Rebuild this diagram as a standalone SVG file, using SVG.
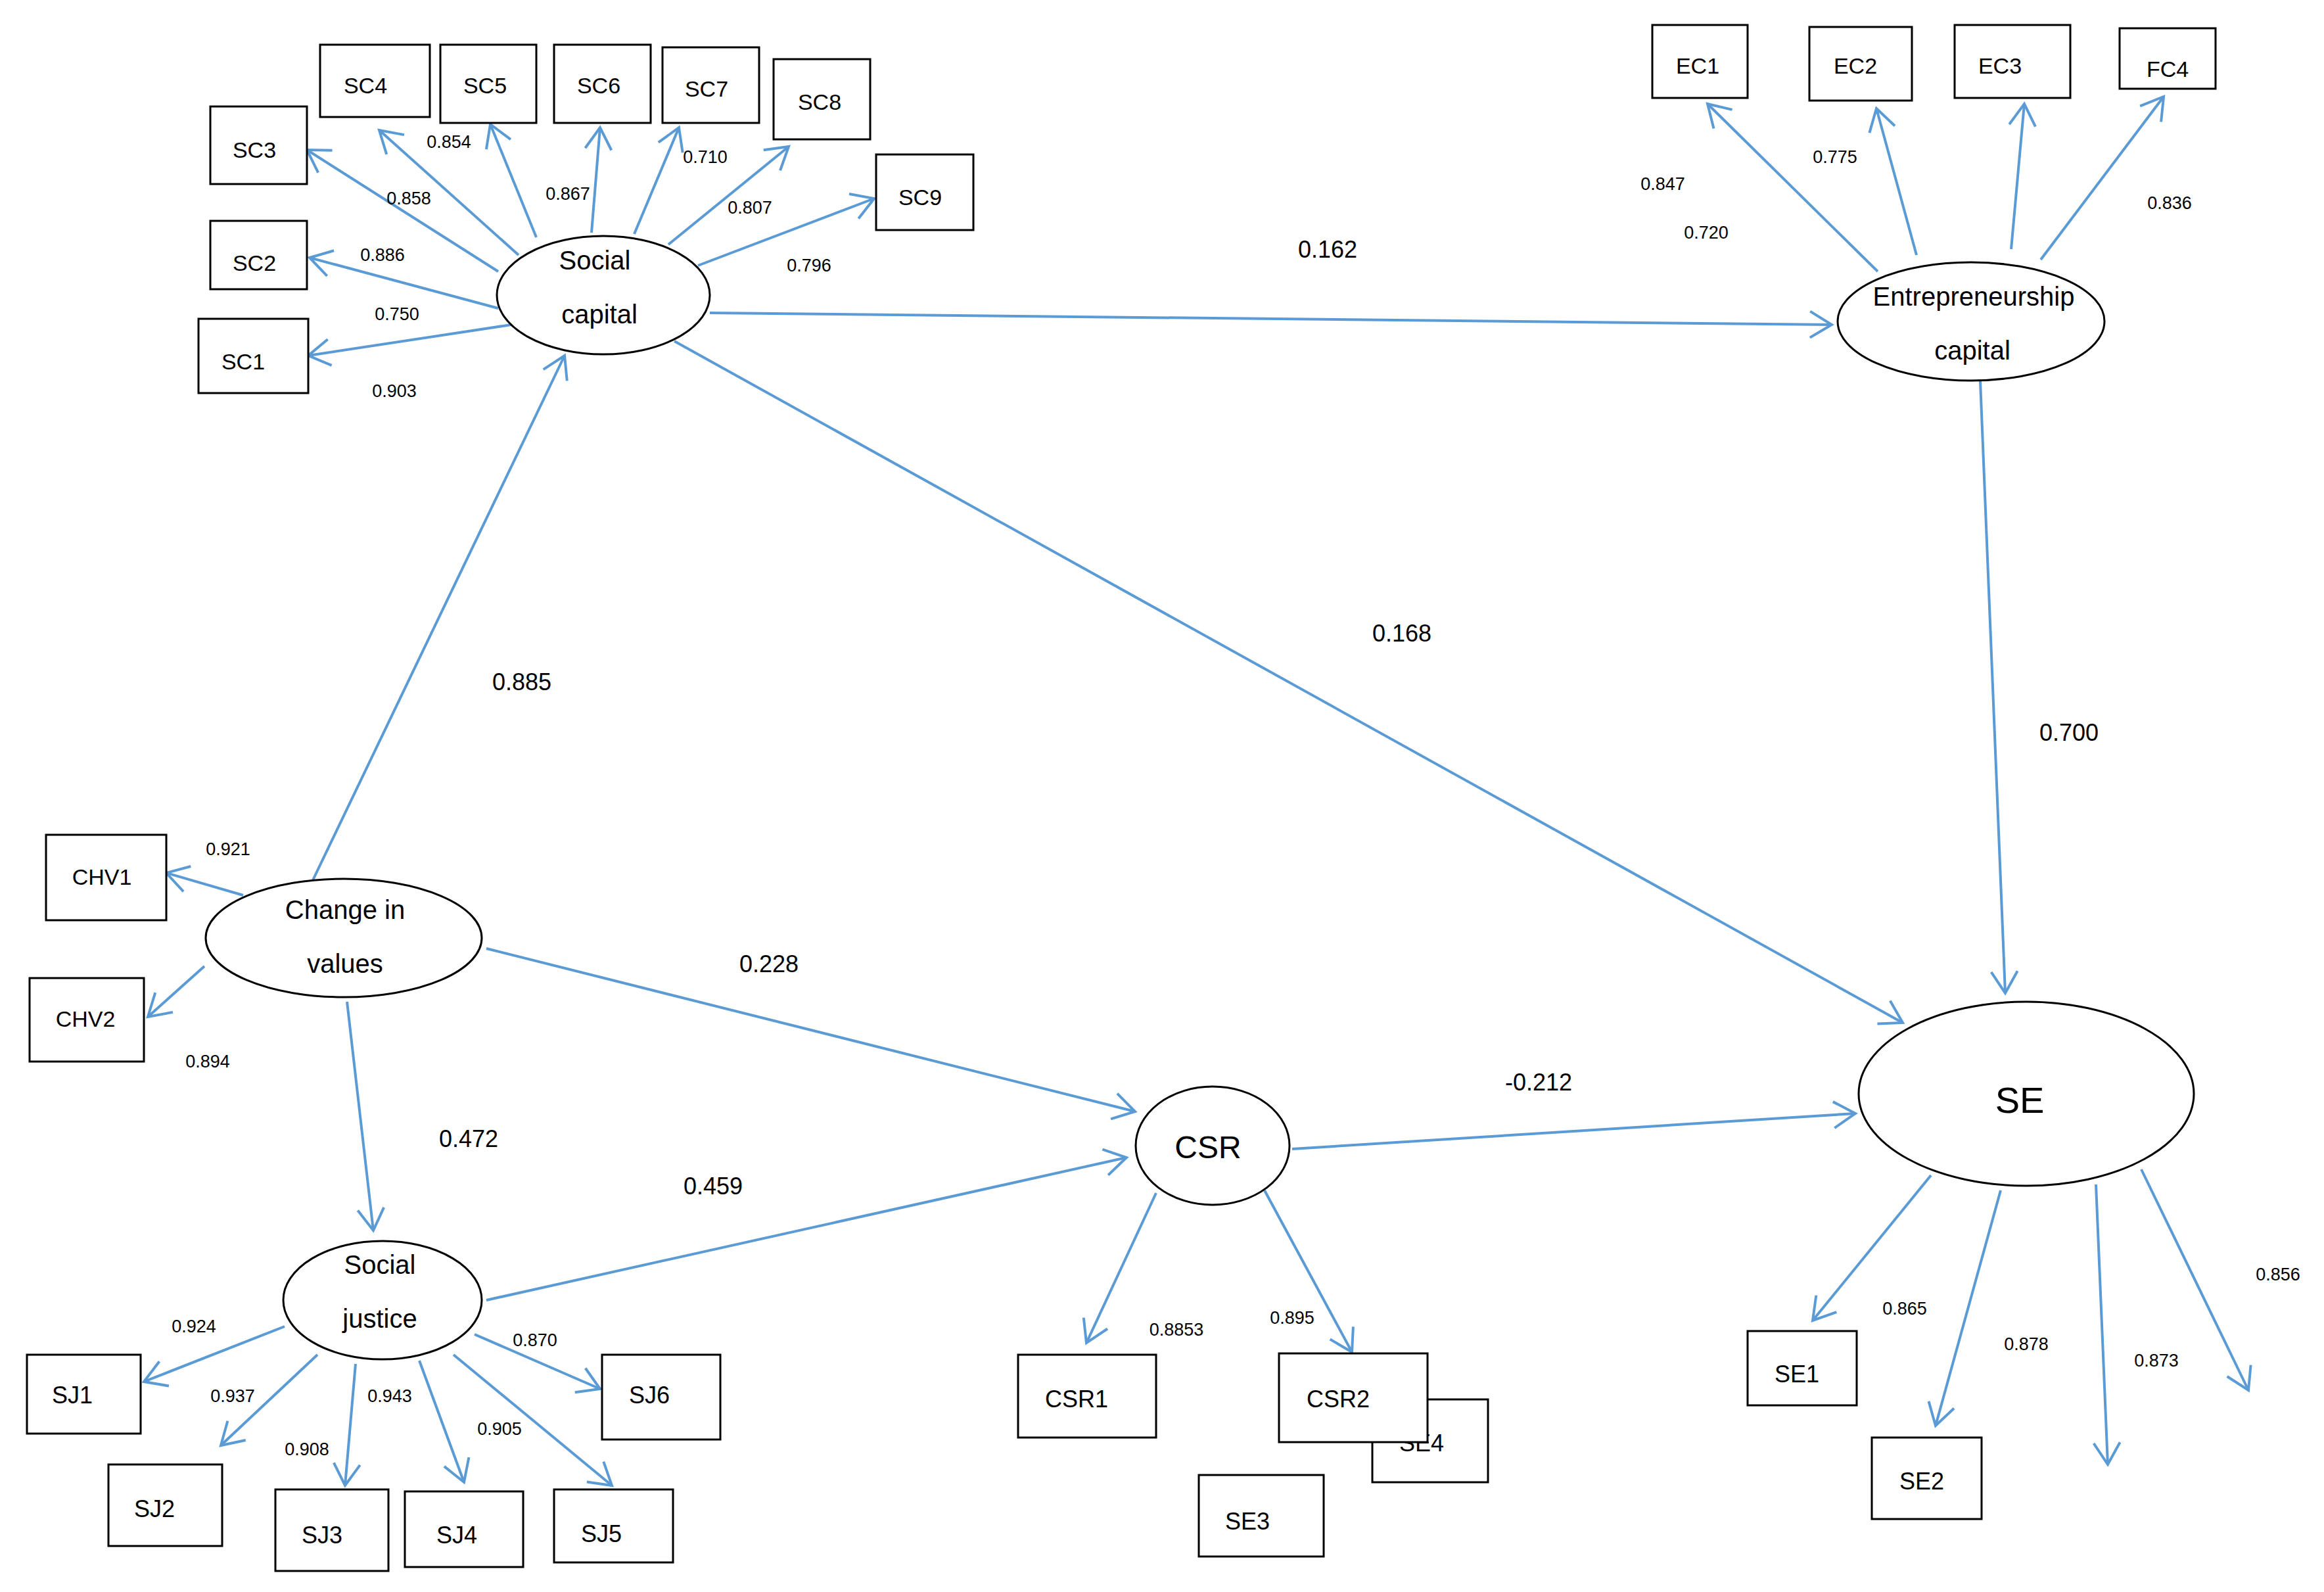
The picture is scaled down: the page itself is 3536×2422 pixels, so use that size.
<svg xmlns="http://www.w3.org/2000/svg" width="3536" height="2422" viewBox="0 0 3536 2422">
<style>
.bx{fill:#fff;stroke:#000;stroke-width:3}
.el{fill:#fff;stroke:#000;stroke-width:3}
.t{font-family:"Liberation Sans",Arial,sans-serif;fill:#000;text-anchor:middle;dominant-baseline:central}
.bt{font-size:34px}
.et{font-size:40px}
.s{font-size:27px}
.m{font-size:36px}
.e{stroke:#5b9bd5;stroke-width:4;fill:none;marker-end:url(#a)}
</style>
<defs>
<marker id="a" markerWidth="14" markerHeight="14" refX="13" refY="7" orient="auto" markerUnits="userSpaceOnUse" viewBox="0 0 14 14" overflow="visible">
<path d="M-20,-13 L13,7 L-20,27" fill="none" stroke="#5b9bd5" stroke-width="4"/>
</marker>
</defs>
<rect width="3536" height="2422" fill="#fff"/>
<g id="connectors">
<line class="e" x1="778" y1="494" x2="469" y2="541"/>
<line class="e" x1="758" y1="469" x2="471" y2="392"/>
<line class="e" x1="758" y1="413" x2="467" y2="228"/>
<line class="e" x1="789" y1="388" x2="577" y2="198"/>
<line class="e" x1="816" y1="361" x2="746" y2="189"/>
<line class="e" x1="900" y1="354" x2="913" y2="194"/>
<line class="e" x1="965" y1="356" x2="1033" y2="194"/>
<line class="e" x1="1017" y1="372" x2="1200" y2="223"/>
<line class="e" x1="1062" y1="404" x2="1330" y2="302"/>
<line class="e" x1="1080" y1="476" x2="2787" y2="494"/>
<line class="e" x1="1026" y1="519" x2="2895" y2="1556"/>
<line class="e" x1="476" y1="1339" x2="859" y2="541"/>
<line class="e" x1="2857" y1="413" x2="2598" y2="158"/>
<line class="e" x1="2916" y1="388" x2="2855" y2="165"/>
<line class="e" x1="3060" y1="379" x2="3080" y2="158"/>
<line class="e" x1="3105" y1="395" x2="3292" y2="147"/>
<line class="e" x1="3013" y1="580" x2="3051" y2="1511"/>
<line class="e" x1="370" y1="1362" x2="253" y2="1328"/>
<line class="e" x1="311" y1="1470" x2="225" y2="1547"/>
<line class="e" x1="740" y1="1443" x2="1727" y2="1691"/>
<line class="e" x1="528" y1="1524" x2="568" y2="1872"/>
<line class="e" x1="740" y1="1978" x2="1714" y2="1761"/>
<line class="e" x1="1966" y1="1748" x2="2823" y2="1694"/>
<line class="e" x1="1759" y1="1815" x2="1653" y2="2043"/>
<line class="e" x1="1924" y1="1811" x2="2057" y2="2057"/>
<line class="e" x1="2938" y1="1788" x2="2758" y2="2009"/>
<line class="e" x1="3044" y1="1811" x2="2945" y2="2169"/>
<line class="e" x1="3189" y1="1802" x2="3207" y2="2228"/>
<line class="e" x1="3258" y1="1779" x2="3421" y2="2115"/>
<line class="e" x1="433" y1="2018" x2="219" y2="2102"/>
<line class="e" x1="483" y1="2061" x2="336" y2="2199"/>
<line class="e" x1="541" y1="2075" x2="525" y2="2260"/>
<line class="e" x1="638" y1="2070" x2="706" y2="2255"/>
<line class="e" x1="690" y1="2061" x2="931" y2="2260"/>
<line class="e" x1="722" y1="2030" x2="913" y2="2113"/>
</g>
<g id="SocialCapital"><ellipse class="el" cx="918" cy="449" rx="162" ry="90"/><text class="t et" x="905" y="396">Social</text><text class="t et" x="912" y="478">capital</text></g>
<g id="EntrepreneurshipCapital"><ellipse class="el" cx="2999" cy="489" rx="203" ry="90"/><text class="t et" x="3003" y="451">Entrepreneurship</text><text class="t et" x="3001" y="533">capital</text></g>
<g id="ChangeInValues"><ellipse class="el" cx="523" cy="1427" rx="210" ry="90"/><text class="t et" x="525" y="1384">Change in</text><text class="t et" x="525" y="1466">values</text></g>
<g id="SE"><ellipse class="el" cx="3083" cy="1664" rx="255" ry="140"/><text class="t" style="font-size:56px" x="3073" y="1673">SE</text></g>
<g id="CSR"><ellipse class="el" cx="1845" cy="1743" rx="117" ry="90"/><text class="t" style="font-size:48px" x="1838" y="1745">CSR</text></g>
<g id="SocialJustice"><ellipse class="el" cx="582" cy="1978" rx="151" ry="90"/><text class="t et" x="578" y="1924">Social</text><text class="t et" x="578" y="2006">justice</text></g>
<g id="SC4"><rect class="bx" x="487" y="68" width="167" height="110"/><text class="t bt" x="556" y="130">SC4</text></g>
<g id="SC5"><rect class="bx" x="670" y="68" width="146" height="119"/><text class="t bt" x="738" y="130">SC5</text></g>
<g id="SC6"><rect class="bx" x="843" y="68" width="147" height="119"/><text class="t bt" x="911" y="130">SC6</text></g>
<g id="SC7"><rect class="bx" x="1008" y="72" width="147" height="115"/><text class="t bt" x="1075" y="135">SC7</text></g>
<g id="SC8"><rect class="bx" x="1177" y="90" width="147" height="122"/><text class="t bt" x="1247" y="155">SC8</text></g>
<g id="SC9"><rect class="bx" x="1333" y="235" width="148" height="115"/><text class="t bt" x="1400" y="300">SC9</text></g>
<g id="SC3"><rect class="bx" x="320" y="162" width="147" height="118"/><text class="t bt" x="387" y="228">SC3</text></g>
<g id="SC2"><rect class="bx" x="320" y="336" width="147" height="104"/><text class="t bt" x="387" y="400">SC2</text></g>
<g id="SC1"><rect class="bx" x="302" y="485" width="167" height="113"/><text class="t bt" x="370" y="550">SC1</text></g>
<g id="EC1"><rect class="bx" x="2514" y="38" width="145" height="111"/><text class="t bt" x="2583" y="100">EC1</text></g>
<g id="EC2"><rect class="bx" x="2753" y="41" width="156" height="112"/><text class="t bt" x="2823" y="100">EC2</text></g>
<g id="EC3"><rect class="bx" x="2974" y="38" width="176" height="111"/><text class="t bt" x="3043" y="100">EC3</text></g>
<g id="EC4"><rect class="bx" x="3225" y="43" width="146" height="92"/><text class="t bt" x="3298" y="105">FC4</text></g>
<g id="CHV1"><rect class="bx" x="70" y="1270" width="183" height="130"/><text class="t bt" x="155" y="1334">CHV1</text></g>
<g id="CHV2"><rect class="bx" x="45" y="1488" width="174" height="127"/><text class="t bt" x="130" y="1550">CHV2</text></g>
<g id="SJ1"><rect class="bx" x="41" y="2061" width="173" height="120"/><text class="t m" x="110" y="2122">SJ1</text></g>
<g id="SJ2"><rect class="bx" x="165" y="2228" width="173" height="124"/><text class="t m" x="235" y="2295">SJ2</text></g>
<g id="SJ3"><rect class="bx" x="419" y="2266" width="172" height="124"/><text class="t m" x="490" y="2335">SJ3</text></g>
<g id="SJ4"><rect class="bx" x="616" y="2269" width="180" height="115"/><text class="t m" x="695" y="2335">SJ4</text></g>
<g id="SJ5"><rect class="bx" x="843" y="2266" width="181" height="111"/><text class="t m" x="915" y="2333">SJ5</text></g>
<g id="SJ6"><rect class="bx" x="916" y="2061" width="180" height="129"/><text class="t m" x="988" y="2122">SJ6</text></g>
<g id="CSR1"><rect class="bx" x="1549" y="2061" width="210" height="126"/><text class="t m" x="1638" y="2128">CSR1</text></g>
<g id="SE4"><rect class="bx" x="2088" y="2129" width="176" height="126"/><text class="t m" x="2163" y="2195">SE4</text></g>
<g id="CSR2"><rect class="bx" x="1946" y="2059" width="226" height="135"/><text class="t m" x="2036" y="2128">CSR2</text></g>
<g id="SE3"><rect class="bx" x="1824" y="2244" width="190" height="124"/><text class="t m" x="1898" y="2314">SE3</text></g>
<g id="SE1"><rect class="bx" x="2659" y="2025" width="166" height="113"/><text class="t m" x="2734" y="2090">SE1</text></g>
<g id="SE2"><rect class="bx" x="2848" y="2187" width="167" height="124"/><text class="t m" x="2924" y="2253">SE2</text></g>
<g id="labels">
<text class="t s" x="622" y="302">0.858</text>
<text class="t s" x="683" y="216">0.854</text>
<text class="t s" x="864" y="295">0.867</text>
<text class="t s" x="1073" y="239">0.710</text>
<text class="t s" x="1141" y="316">0.807</text>
<text class="t s" x="1231" y="404">0.796</text>
<text class="t s" x="582" y="388">0.886</text>
<text class="t s" x="604" y="478">0.750</text>
<text class="t s" x="600" y="595">0.903</text>
<text class="t s" x="2530" y="280">0.847</text>
<text class="t s" x="2596" y="354">0.720</text>
<text class="t s" x="2792" y="239">0.775</text>
<text class="t s" x="3301" y="309">0.836</text>
<text class="t m" x="2020" y="379">0.162</text>
<text class="t m" x="2133" y="963">0.168</text>
<text class="t m" x="794" y="1037">0.885</text>
<text class="t m" x="3148" y="1114">0.700</text>
<text class="t m" x="1170" y="1466">0.228</text>
<text class="t m" x="713" y="1732">0.472</text>
<text class="t m" x="1085" y="1804">0.459</text>
<text class="t m" x="2341" y="1646">-0.212</text>
<text class="t s" x="347" y="1292">0.921</text>
<text class="t s" x="316" y="1615">0.894</text>
<text class="t s" x="295" y="2018">0.924</text>
<text class="t s" x="354" y="2124">0.937</text>
<text class="t s" x="593" y="2124">0.943</text>
<text class="t s" x="467" y="2205">0.908</text>
<text class="t s" x="760" y="2174">0.905</text>
<text class="t s" x="814" y="2039">0.870</text>
<text class="t s" x="1790" y="2023">0.8853</text>
<text class="t s" x="1966" y="2005">0.895</text>
<text class="t s" x="2898" y="1991">0.865</text>
<text class="t s" x="3083" y="2045">0.878</text>
<text class="t s" x="3281" y="2070">0.873</text>
<text class="t s" x="3466" y="1939">0.856</text>
</g>
</svg>
